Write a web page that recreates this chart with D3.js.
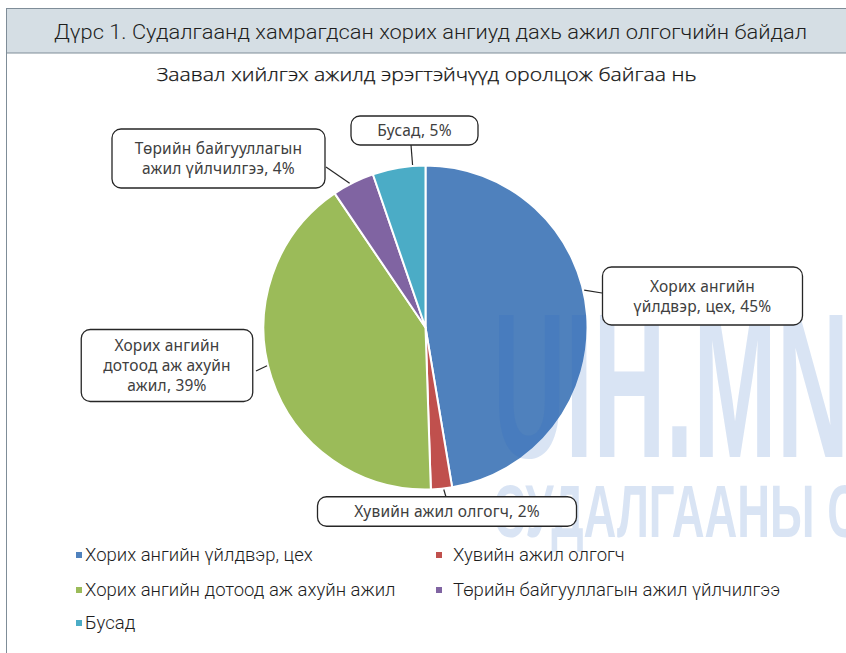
<!DOCTYPE html>
<html>
<head>
<meta charset="utf-8">
<script src="https://cdn.jsdelivr.net/npm/d3@7"></script>
<style>
  body { margin: 0; background: #fff; }
  svg { display: block; }
</style>
</head>
<body>
<svg id="pie-svg" width="846" height="653"></svg>
<script>
// Data
const categories = [
    "Хорих ангийн үйлдвэр, цех",
    "Хувийн ажил олгогч",
    "Хорих ангийн дотоод аж ахуйн ажил",
    "Төрийн байгууллагын ажил үйлчилгээ",
    "Бусад"
];
const values = [45, 2, 39, 4, 5];
// category names as they wrap inside the callouts
const calloutNames = [
    ["Хорих ангийн", "үйлдвэр, цех"],
    ["Хувийн ажил олгогч"],
    ["Хорих ангийн", "дотоод аж ахуйн", "ажил"],
    ["Төрийн байгууллагын", "ажил үйлчилгээ"],
    ["Бусад"]
];
const figureTitle = "Дүрс 1. Судалгаанд хамрагдсан хорих ангиуд дахь ажил олгогчийн байдал";
const chartTitle = "Заавал хийлгэх ажилд эрэгтэйчүүд оролцож байгаа нь";

const colors = ["#4F81BD", "#C0504D", "#9BBB59", "#8064A2", "#4BACC6"];

const width = 846, height = 653;
const cx = 425.5, cy = 327.5, radius = 162;

// callout boxes: centre offset from pie centre, size, leader position inside slice (0..1), box anchor
const callouts = [
    { dx: 277, dy: -31.5, w: 200, h: 58, t: 0.45, ax: 602, ay: 293 },
    { dx: 21.5, dy: 184, w: 259, h: 29.5, t: 0.4, ax: 446, ay: 497 },
    { dx: -258.5, dy: 38, w: 171.5, h: 72, t: 0.53, ax: 256, ay: 371 },
    { dx: -207, dy: -169, w: 213, h: 59, t: 0.42, ax: 326, ay: 167 },
    { dx: -11, dy: -197, w: 127, h: 29, t: 0.76, ax: 411, ay: 145 }
];

const svg = d3.select("#pie-svg");

// Header band
svg.append("rect")
    .attr("x", 6.5).attr("y", 8.5)
    .attr("width", width).attr("height", 44.5)
    .attr("fill", "#D5DEE4")
    .attr("stroke", "#7F8D98");

svg.append("line")
    .attr("x1", 6.5).attr("x2", 6.5)
    .attr("y1", 53).attr("y2", height)
    .attr("stroke", "#7F8D98");

svg.append("text")
    .attr("x", 54).attr("y", 38.5)
    .attr("textLength", 753)
    .attr("lengthAdjust", "spacingAndGlyphs")
    .style("font", "300 20.5px Roboto, sans-serif")
    .attr("fill", "#1E1E1E")
    .text(figureTitle);

svg.append("text")
    .attr("x", 156.5).attr("y", 81)
    .attr("textLength", 540)
    .attr("lengthAdjust", "spacingAndGlyphs")
    .style("font", "300 17.5px 'Open Sans', 'Noto Sans', sans-serif")
    .attr("fill", "#111")
    .attr("stroke", "#111")
    .attr("stroke-width", 0.25)
    .text(chartTitle);

// Pie
const pie = d3.pie().sort(null).value(d => d);
const arcs = pie(values);
const arc = d3.arc().innerRadius(0).outerRadius(radius);

const g = svg.append("g").attr("transform", `translate(${cx},${cy})`);

g.selectAll("path")
    .data(arcs)
    .join("path")
    .attr("d", arc)
    .attr("fill", (d, i) => colors[i])
    .attr("stroke", "#fff")
    .attr("stroke-width", 2)
    .attr("stroke-linejoin", "round");

// Watermark sits over the pie but under the callouts
const wm = svg.append("g")
    .attr("fill", "#2F6CC0")
    .attr("fill-opacity", 0.18)
    .style("font-family", "'Liberation Sans Narrow', 'Liberation Sans', sans-serif")
    .style("font-weight", "bold");

wm.append("text")
    .attr("x", 493).attr("y", 457)
    .attr("textLength", 356)
    .attr("lengthAdjust", "spacingAndGlyphs")
    .style("font-size", "206px")
    .text("UIH.MN");

wm.append("text")
    .attr("x", 493).attr("y", 537)
    .attr("textLength", 367)
    .attr("lengthAdjust", "spacingAndGlyphs")
    .style("font-size", "74px")
    .text("СУДАЛГААНЫ С");

// Callouts
const call = svg.append("g");

arcs.forEach((d, i) => {
    const c = callouts[i];
    const a = d.startAngle + (d.endAngle - d.startAngle) * c.t;
    const px = cx + Math.sin(a) * (radius + 1);
    const py = cy - Math.cos(a) * (radius + 1);

    call.append("line")
        .attr("x1", px).attr("y1", py)
        .attr("x2", c.ax).attr("y2", c.ay)
        .attr("stroke", "#262626")
        .attr("stroke-width", 1.2);

    const bx = cx + c.dx, by = cy + c.dy;
    call.append("rect")
        .attr("x", bx - c.w / 2).attr("y", by - c.h / 2)
        .attr("width", c.w).attr("height", c.h)
        .attr("rx", 9)
        .attr("fill", "#fff")
        .attr("stroke", "#262626")
        .attr("stroke-width", 1.3);

    const lines = calloutNames[i].slice();
    lines[lines.length - 1] += `, ${values[i]}%`;
    const lh = 20;
    call.append("text")
        .attr("text-anchor", "middle")
        .style("font", "15.5px 'Noto Sans', sans-serif")
        .style("letter-spacing", "0.2px")
        .attr("fill", "#404040")
        .selectAll("tspan")
        .data(lines)
        .join("tspan")
        .attr("x", bx)
        .attr("y", (l, j) => by + 5.5 + (j - (lines.length - 1) / 2) * lh)
        .text(l => l);
});

// Legend
const legend = svg.append("g")
    .style("font", "300 18.5px Roboto, sans-serif")
    .attr("fill", "#1E1E1E");

const legX = [76, 436], legTextX = [85, 453], legY = [555, 590, 623];

categories.forEach((name, i) => {
    const col = i % 2, row = Math.floor(i / 2);
    legend.append("rect")
        .attr("x", legX[col]).attr("y", legY[row] - 3)
        .attr("width", 6).attr("height", 6)
        .attr("fill", colors[i]);
    legend.append("text")
        .attr("x", legTextX[col]).attr("y", legY[row] + 6)
        .text(name);
});
</script>
</body>
</html>
